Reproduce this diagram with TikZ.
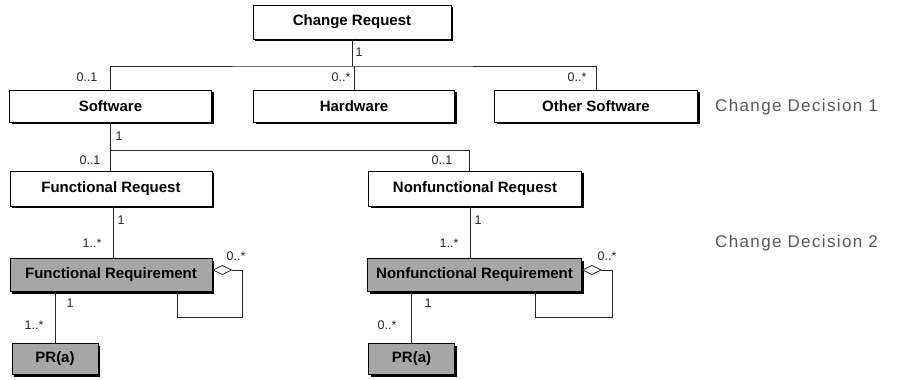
\documentclass[tikz,border=0pt]{standalone}
\usepackage{fontspec}
\setmainfont{Liberation Sans}
\newfontfamily\decfont[LetterSpace=8]{Liberation Sans}
\usetikzlibrary{arrows.meta}

\tikzset{
  cls/.style={draw=black, line width=0.8pt, fill=white, inner sep=0pt,
    font=\fontsize{15}{15}\selectfont\bfseries},
  shadowed/.style={preaction={fill=black, transform canvas={xshift=2.4pt, yshift=-2.4pt}}},
  grey/.style={fill=black!35},
  conn/.style={draw=black!85, line width=0.8pt},
  agg/.style={conn, {Diamond[open, fill=white, length=20pt, width=10pt]}-},
  mult/.style={inner sep=0pt, font=\fontsize{12.5}{12.5}\selectfont, text=black!85},
  decision/.style={inner sep=0pt, anchor=west, text=black!65,
    font=\decfont\fontsize{17}{17}\selectfont}
}

\begin{document}
\begin{tikzpicture}[x=1pt, y=-1pt]
  \useasboundingbox (0,0) rectangle (918,380);

  % classes
  \node[cls, shadowed, minimum width=198pt, minimum height=34pt] (cr) at (352,22) {Change Request};
  \node[cls, shadowed, minimum width=202pt, minimum height=32pt] (sw) at (110.5,106) {Software};
  \node[cls, shadowed, minimum width=201pt, minimum height=32pt] (hw) at (354,106) {Hardware};
  \node[cls, shadowed, minimum width=203pt, minimum height=32pt] (os) at (596,106) {Other Software};
  \node[cls, shadowed, minimum width=202pt, minimum height=35pt] (fr) at (111,188.5) {Functional Request};
  \node[cls, shadowed, minimum width=213pt, minimum height=35pt] (nr) at (475,188.5) {Nonfunctional Request};
  \node[cls, grey, shadowed, minimum width=202pt, minimum height=33pt] (freq) at (111,275) {Functional Requirement};
  \node[cls, grey, shadowed, minimum width=214pt, minimum height=33pt] (nreq) at (474.5,275) {Nonfunctional Requirement};
  \node[cls, grey, shadowed, minimum width=86pt, minimum height=31pt] (pra) at (55,359) {PR(a)};
  \node[cls, grey, shadowed, minimum width=86pt, minimum height=31pt] (prb) at (411.5,359) {PR(a)};

  % junctions of the association trees
  \coordinate (j1) at (cr.south |- 0,66);
  \coordinate (j2) at (sw.south |- 0,150);
  \coordinate (j3) at (469,150);

  % Change Request -> Software / Hardware / Other Software
  \draw[conn] (cr.south) -- (j1);
  \draw[conn] (sw.north) |- (j1) -| (os.north);
  \draw[conn] (hw.north) -- (hw.north |- j1);

  % Software -> Functional / Nonfunctional Request
  \draw[conn] (sw.south) -- (j2);
  \draw[conn] (fr.north -| j2) |- (j3) -- (j3 |- nr.north);

  % Requests -> Requirements
  \draw[conn] ([xshift=2pt]fr.south) -- ([xshift=2pt]freq.north);
  \draw[conn] ([xshift=-5pt]nr.south) -- (nreq.north -| 470,0);

  % Requirements -> PR(a)
  \draw[conn] (pra.north) -- (pra.north |- freq.south);
  \draw[conn] (prb.north) -- (prb.north |- nreq.south);

  % self aggregations
  \draw[agg] ([yshift=5pt]freq.east) -| ++(30,47) -| ([xshift=66pt]freq.south);
  \draw[agg] ([yshift=5pt]nreq.east) -| ++(30,47) -| ([xshift=60.5pt]nreq.south);

  % multiplicities
  \node[mult] (m1)  at (359,52)  {1};
  \node[mult] (m2)  at (87,77)   {0..1};
  \node[mult] (m3)  at (341,77)  {0..*};
  \node[mult] (m4)  at (577,77)  {0..*};
  \node[mult] (m5)  at (119,136) {1};
  \node[mult] (m6)  at (90,160)  {0..1};
  \node[mult] (m7)  at (442,160) {0..1};
  \node[mult] (m8)  at (121,220) {1};
  \node[mult] (m9)  at (92,243)  {1..*};
  \node[mult] (m10) at (236,256) {0..*};
  \node[mult] (m11) at (70,303)  {1};
  \node[mult] (m12) at (34,325)  {1..*};
  \node[mult] (m13) at (478,220) {1};
  \node[mult] (m14) at (449,243) {1..*};
  \node[mult] (m15) at (607,256) {0..*};
  \node[mult] (m16) at (428,303) {1};
  \node[mult] (m17) at (387,325) {0..*};

  % decision levels
  \node[decision] (d1) at (715,107) {Change Decision 1};
  \node[decision] (d2) at (715,243) {Change Decision 2};
\end{tikzpicture}
\end{document}
